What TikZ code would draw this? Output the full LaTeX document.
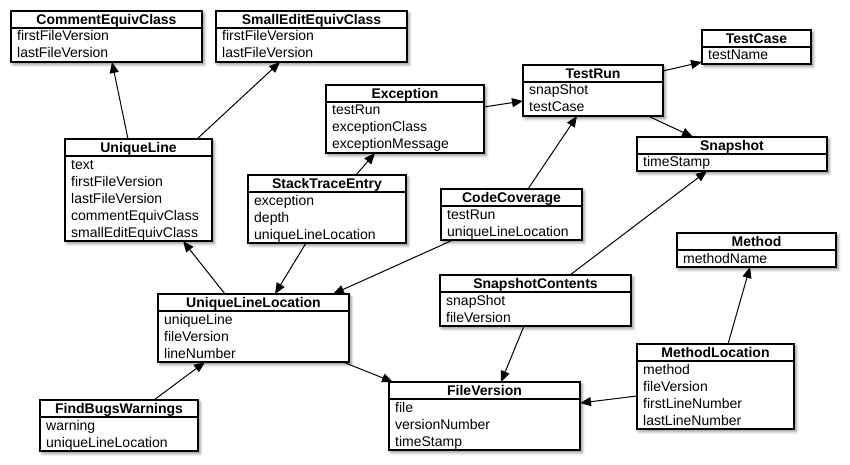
\documentclass[tikz,border=0pt]{standalone}
\usepackage{fontspec}
\setmainfont{Liberation Sans}
\usetikzlibrary{arrows.meta,calc,shadows.blur}
\tikzset{
  umlframe/.style={draw=black, line width=1.1pt, fill=white, inner sep=0pt, outer sep=0pt, anchor=north west,
    blur shadow={shadow xshift=2pt, shadow yshift=-2.5pt, shadow blur radius=3pt, shadow opacity=45}},
  umltitle/.style={font=\fontsize{14}{17}\selectfont\bfseries, anchor=base, inner sep=0pt},
  umlattr/.style={font=\fontsize{14}{17}\selectfont, anchor=base west, inner sep=0pt},
  assoc/.style={draw=black, line width=1pt, -{Triangle[length=11pt,width=9pt]}},
}
\newcommand{\umlclass}[7]{%
  \node[umlframe, minimum width=#4, minimum height={17*(#5+1)}] (#1) at (#2,#3) {};
  \draw[line width=1.1pt] ($(#1.north west)+(0,17)$) -- ($(#1.north east)+(0,17)$);
  \node[umltitle] (#1-t) at ($(#1.north west)+(0.5*#4,13.5)$) {#6};
  \foreach \a [count=\i] in {#7} {
    \node[umlattr] (#1-\i) at ($(#1.north west)+(6,{13+17*\i})$) {\a};
  }
}
\begin{document}
\begin{tikzpicture}[x=1pt,y=-1pt]
\useasboundingbox (0,0) rectangle (850,465);
\umlclass{cec}{11}{11}{191}{2}{CommentEquivClass}{firstFileVersion,lastFileVersion}
\umlclass{sec}{216}{11}{191}{2}{SmallEditEquivClass}{firstFileVersion,lastFileVersion}
\umlclass{exc}{326}{85}{158}{3}{Exception}{testRun,exceptionClass,exceptionMessage}
\umlclass{tr}{523}{65}{140}{2}{TestRun}{snapShot,testCase}
\umlclass{tc}{702}{30}{109}{1}{TestCase}{testName}
\umlclass{snap}{637}{137}{190}{1}{Snapshot}{timeStamp}
\umlclass{ul}{65}{139}{147}{5}{UniqueLine}{text,firstFileVersion,lastFileVersion,commentEquivClass,smallEditEquivClass}
\umlclass{ste}{248}{175}{158}{3}{StackTraceEntry}{exception,depth,uniqueLineLocation}
\umlclass{cc}{441}{189}{141}{2}{CodeCoverage}{testRun,uniqueLineLocation}
\umlclass{meth}{677}{233}{159}{1}{Method}{methodName}
\umlclass{ull}{158}{294}{191}{3}{UniqueLineLocation}{uniqueLine,fileVersion,lineNumber}
\umlclass{sc}{440}{275}{191}{2}{SnapshotContents}{snapShot,fileVersion}
\umlclass{ml}{637}{344}{157}{4}{MethodLocation}{method,fileVersion,firstLineNumber,lastLineNumber}
\umlclass{fv}{389}{382}{191}{3}{FileVersion}{file,versionNumber,timeStamp}
\umlclass{fbw}{40}{400}{158}{2}{FindBugsWarnings}{warning,uniqueLineLocation}

\draw[assoc] ($(ul.north west)+(63,0)$) -- ($(cec.south west)+(101,0)$);
\draw[assoc] ($(ul.north west)+(132,0)$) -- ($(sec.south west)+(64,0)$);
\draw[assoc] ($(ste.north west)+(108,0)$) -- ($(exc.south west)+(49,0)$);
\draw[assoc] ($(exc.north east)+(0,22)$) -- ($(tr.north west)+(0,36)$);
\draw[assoc] ($(tr.north east)+(0,6)$) -- ($(tc.north west)+(0,32)$);
\draw[assoc] ($(tr.south east)+(-15,0)$) -- ($(snap.north west)+(56,0)$);
\draw[assoc] ($(cc.north west)+(87,0)$) -- ($(tr.south west)+(54,0)$);
\draw[assoc] ($(sc.north west)+(130,0)$) -- ($(snap.south west)+(70,0)$);
\draw[assoc] ($(cc.south west)+(12,0)$) -- ($(ull.north west)+(175,0)$);
\draw[assoc] ($(ull.north west)+(67,0)$) -- ($(ul.south west)+(118,0)$);
\draw[assoc] ($(ste.south west)+(58,0)$) -- ($(ull.north west)+(117,0)$);
\draw[assoc] ($(fbw.north west)+(114,0)$) -- ($(ull.south west)+(47,0)$);
\draw[assoc] ($(ull.south east)+(-6,0)$) -- ($(fv.north west)+(4,0)$);
\draw[assoc] ($(sc.south west)+(84,0)$) -- ($(fv.north west)+(112,0)$);
\draw[assoc] ($(ml.north west)+(0,52)$) -- ($(fv.north east)+(0,21)$);
\draw[assoc] ($(ml.north west)+(91,0)$) -- ($(meth.south west)+(73,0)$);
\end{tikzpicture}
\end{document}
